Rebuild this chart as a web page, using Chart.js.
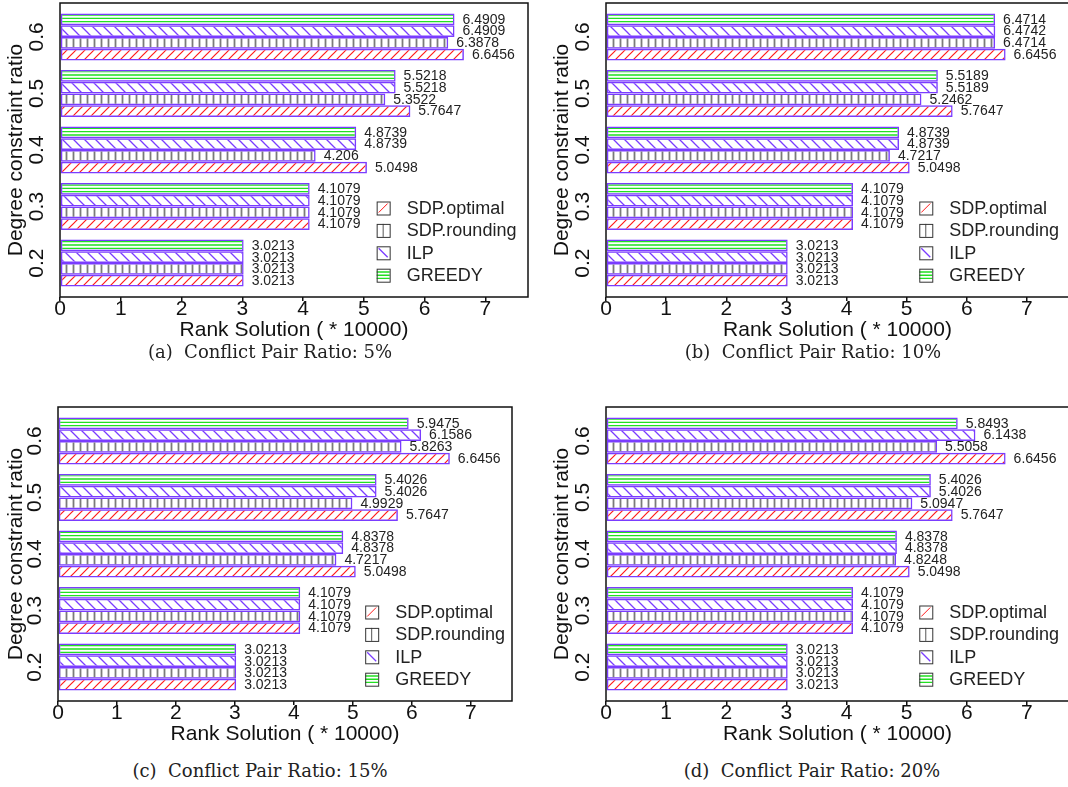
<!DOCTYPE html>
<html>
<head>
<meta charset="utf-8">
<title>Rank Solution vs Degree constraint ratio</title>
<script src="https://cdn.jsdelivr.net/npm/chart.js@4.4.1/dist/chart.umd.min.js"></script>
<style>
  html, body { margin: 0; padding: 0; background: #fff; overflow: hidden; }
  body { position: relative; width: 1068px; height: 787px; }
  canvas { position: absolute; }
  .caption {
    position: absolute;
    transform: translate(-50%, -50%);
    font-family: 'DejaVu Serif', 'Liberation Serif', serif;
    font-size: 18px;
    color: #222;
    white-space: nowrap;
  }
</style>
</head>
<body>
<canvas id="chart-a" width="540" height="345" style="left:0;top:0"></canvas>
<canvas id="chart-b" width="530" height="345" style="left:540px;top:0"></canvas>
<canvas id="chart-c" width="540" height="345" style="left:0;top:404px"></canvas>
<canvas id="chart-d" width="530" height="345" style="left:540px;top:404px"></canvas>
<div class="caption" style="left:270px;top:351px">(a)&nbsp; Conflict Pair Ratio: 5%</div>
<div class="caption" style="left:813px;top:351px">(b)&nbsp; Conflict Pair Ratio: 10%</div>
<div class="caption" style="left:260px;top:770px">(c)&nbsp; Conflict Pair Ratio: 15%</div>
<div class="caption" style="left:812px;top:770px">(d)&nbsp; Conflict Pair Ratio: 20%</div>
<script>
// degree constraint ratios (y categories) and x ticks
const ratios = [0.2, 0.3, 0.4, 0.5, 0.6];
const xTicks = [0, 1, 2, 3, 4, 5, 6, 7];
const seriesNames = ['SDP.optimal', 'SDP.rounding', 'ILP', 'GREEDY'];

// (a) conflict pair ratio 5%
const optimal5 = [3.0213, 4.1079, 5.0498, 5.7647, 6.6456];
const rounding5 = [3.0213, 4.1079, 4.206, 5.3522, 6.3878];
const ilp5 = [3.0213, 4.1079, 4.8739, 5.5218, 6.4909];
const greedy5 = [3.0213, 4.1079, 4.8739, 5.5218, 6.4909];

// (b) 10%
const optimal10 = [3.0213, 4.1079, 5.0498, 5.7647, 6.6456];
const rounding10 = [3.0213, 4.1079, 4.7217, 5.2462, 6.4714];
const ilp10 = [3.0213, 4.1079, 4.8739, 5.5189, 6.4742];
const greedy10 = [3.0213, 4.1079, 4.8739, 5.5189, 6.4714];

// (c) 15%
const optimal15 = [3.0213, 4.1079, 5.0498, 5.7647, 6.6456];
const rounding15 = [3.0213, 4.1079, 4.7217, 4.9929, 5.8263];
const ilp15 = [3.0213, 4.1079, 4.8378, 5.4026, 6.1586];
const greedy15 = [3.0213, 4.1079, 4.8378, 5.4026, 5.9475];

// (d) 20%
const optimal20 = [3.0213, 4.1079, 5.0498, 5.7647, 6.6456];
const rounding20 = [3.0213, 4.1079, 4.8248, 5.0947, 5.5058];
const ilp20 = [3.0213, 4.1079, 4.8378, 5.4026, 6.1438];
const greedy20 = [3.0213, 4.1079, 4.8378, 5.4026, 5.8493];

const PURPLE = '#7a3cff';
const FONT = "'Liberation Sans', Arial, sans-serif";
Chart.defaults.font.family = FONT;
Chart.defaults.color = '#222';

// hatch fills, one tile each
function makePattern(kind) {
  const c = document.createElement('canvas');
  const ctx = c.getContext('2d');
  ctx.beginPath();
  if (kind === 'slash') {
    c.width = 9; c.height = 9;
    ctx.strokeStyle = '#ff1a1a';
    ctx.lineWidth = 1.2;
    ctx.moveTo(0, 9); ctx.lineTo(9, 0);
    ctx.moveTo(-1, 1); ctx.lineTo(1, -1);
    ctx.moveTo(8, 10); ctx.lineTo(10, 8);
  } else if (kind === 'vert') {
    c.width = 7; c.height = 7;
    ctx.strokeStyle = '#7a7a7a';
    ctx.lineWidth = 1.8;
    ctx.moveTo(3.5, 0); ctx.lineTo(3.5, 7);
  } else if (kind === 'back') {
    c.width = 11; c.height = 11;
    ctx.strokeStyle = PURPLE;
    ctx.lineWidth = 1.3;
    ctx.moveTo(0, 0); ctx.lineTo(11, 11);
    ctx.moveTo(10, -1); ctx.lineTo(12, 1);
    ctx.moveTo(-1, 10); ctx.lineTo(1, 12);
  } else {
    c.width = 10; c.height = 10;
    ctx.strokeStyle = '#22e022';
    ctx.lineWidth = 1.4;
    [1.6, 5, 8.4].forEach((y) => { ctx.moveTo(0, y); ctx.lineTo(10, y); });
  }
  ctx.stroke();
  return ctx.createPattern(c, 'repeat');
}

const fills = [makePattern('slash'), makePattern('vert'), makePattern('back'), makePattern('horiz')];

// box around the plot region
const boxPlugin = {
  id: 'box',
  afterDraw(chart) {
    const { ctx, chartArea: a } = chart;
    ctx.save();
    ctx.strokeStyle = '#111';
    ctx.lineWidth = 1.5;
    ctx.strokeRect(a.left, a.top, a.right - a.left, a.bottom - a.top);
    ctx.restore();
  }
};

// value written to the right of every bar
const valuePlugin = {
  id: 'values',
  afterDatasetsDraw(chart) {
    const { ctx } = chart;
    ctx.save();
    ctx.font = '14px ' + FONT;
    ctx.fillStyle = '#222';
    ctx.textBaseline = 'middle';
    ctx.textAlign = 'left';
    chart.data.datasets.forEach((ds, i) => {
      chart.getDatasetMeta(i).data.forEach((bar, j) => {
        ctx.fillText(String(ds.data[j]), bar.x + 8, bar.y + 0.5);
      });
    });
    ctx.restore();
  }
};

// legend sitting inside the plot, lower right
const legendPlugin = {
  id: 'insideLegend',
  afterDraw(chart) {
    const { ctx, chartArea: a } = chart;
    const x = chart.scales.x.getPixelForValue(5.21);
    ctx.save();
    seriesNames.forEach((name, i) => {
      const cy = a.top + 205 + i * 22.4;
      const top = cy - 6.5;
      ctx.lineWidth = 1;
      ctx.beginPath();
      if (i === 0) {
        ctx.strokeStyle = '#ff1a1a';
        ctx.moveTo(x + 2, top + 11); ctx.lineTo(x + 11, top + 2);
      } else if (i === 1) {
        ctx.strokeStyle = '#555';
        ctx.moveTo(x + 6.5, top); ctx.lineTo(x + 6.5, top + 13);
      } else if (i === 2) {
        ctx.strokeStyle = PURPLE;
        ctx.lineWidth = 1.3;
        ctx.moveTo(x + 2, top + 2); ctx.lineTo(x + 11, top + 11);
      } else {
        ctx.strokeStyle = '#22e022';
        ctx.lineWidth = 1.4;
        [3.3, 6.5, 9.7].forEach((dy) => { ctx.moveTo(x, top + dy); ctx.lineTo(x + 13, top + dy); });
      }
      ctx.stroke();
      ctx.strokeStyle = '#333';
      ctx.lineWidth = 1;
      ctx.strokeRect(x + 0.5, top + 0.5, 13, 13);
      ctx.fillStyle = '#222';
      ctx.font = '18px ' + FONT;
      ctx.textBaseline = 'middle';
      ctx.fillText(name, x + 30, cy + 1);
    });
    ctx.restore();
  }
};

function drawPanel(id, series, axisLeft, padRight, titlePad) {
  // datasets listed top to bottom inside each group
  const order = [3, 2, 1, 0];
  const datasets = order.map((k) => ({
    label: seriesNames[k],
    data: series[k],
    backgroundColor: fills[k],
    borderColor: PURPLE,
    borderWidth: 1.5,
    borderSkipped: false,
    categoryPercentage: 0.83,
    barPercentage: 1
  }));

  return new Chart(document.getElementById(id), {
    type: 'bar',
    data: { labels: ratios, datasets },
    options: {
      indexAxis: 'y',
      responsive: false,
      animation: false,
      layout: { padding: { top: 3, right: padRight, left: 0, bottom: 0 } },
      plugins: { legend: { display: false }, tooltip: { enabled: false } },
      scales: {
        x: {
          type: 'linear',
          min: 0,
          max: 7.7,
          afterBuildTicks: (scale) => { scale.ticks = xTicks.map((v) => ({ value: v })); },
          afterFit: (scale) => { scale.height = 48; scale.paddingLeft = 0; scale.paddingRight = 0; },
          border: { display: false },
          grid: { drawOnChartArea: false, drawTicks: true, tickLength: 4, color: '#111', lineWidth: 1.5 },
          ticks: { font: { size: 21, lineHeight: 1 }, padding: -2, color: '#111' },
          title: { display: true, text: 'Rank Solution ( * 10000)', font: { size: 21 }, color: '#111', padding: { top: 0, bottom: 2 } }
        },
        y: {
          type: 'linear',
          min: 0.14,
          max: 0.66,
          offset: false,
          afterBuildTicks: (scale) => { scale.ticks = ratios.map((v) => ({ value: v })); },
          afterFit: (scale) => { scale.width = axisLeft; scale.paddingTop = 0; scale.paddingBottom = 0; },
          border: { display: false },
          grid: { display: false, drawTicks: false, offset: false },
          ticks: {
            font: { size: 21, lineHeight: 1 },
            color: '#111',
            minRotation: 90,
            maxRotation: 90,
            crossAlign: 'center',
            padding: 8,
            callback: (v) => Number(v).toFixed(1)
          },
          title: { display: true, text: 'Degree constraint ratio', font: { size: 21 }, color: '#111', padding: { top: titlePad, bottom: 0 } }
        }
      }
    },
    plugins: [valuePlugin, boxPlugin, legendPlugin]
  });
}

drawPanel('chart-a', [optimal5, rounding5, ilp5, greedy5], 60, 12, 4);
drawPanel('chart-b', [optimal10, rounding10, ilp10, greedy10], 66, 1, 10);
drawPanel('chart-c', [optimal15, rounding15, ilp15, greedy15], 58, 28, 4);
drawPanel('chart-d', [optimal20, rounding20, ilp20, greedy20], 66, 1, 10);
</script>
</body>
</html>
